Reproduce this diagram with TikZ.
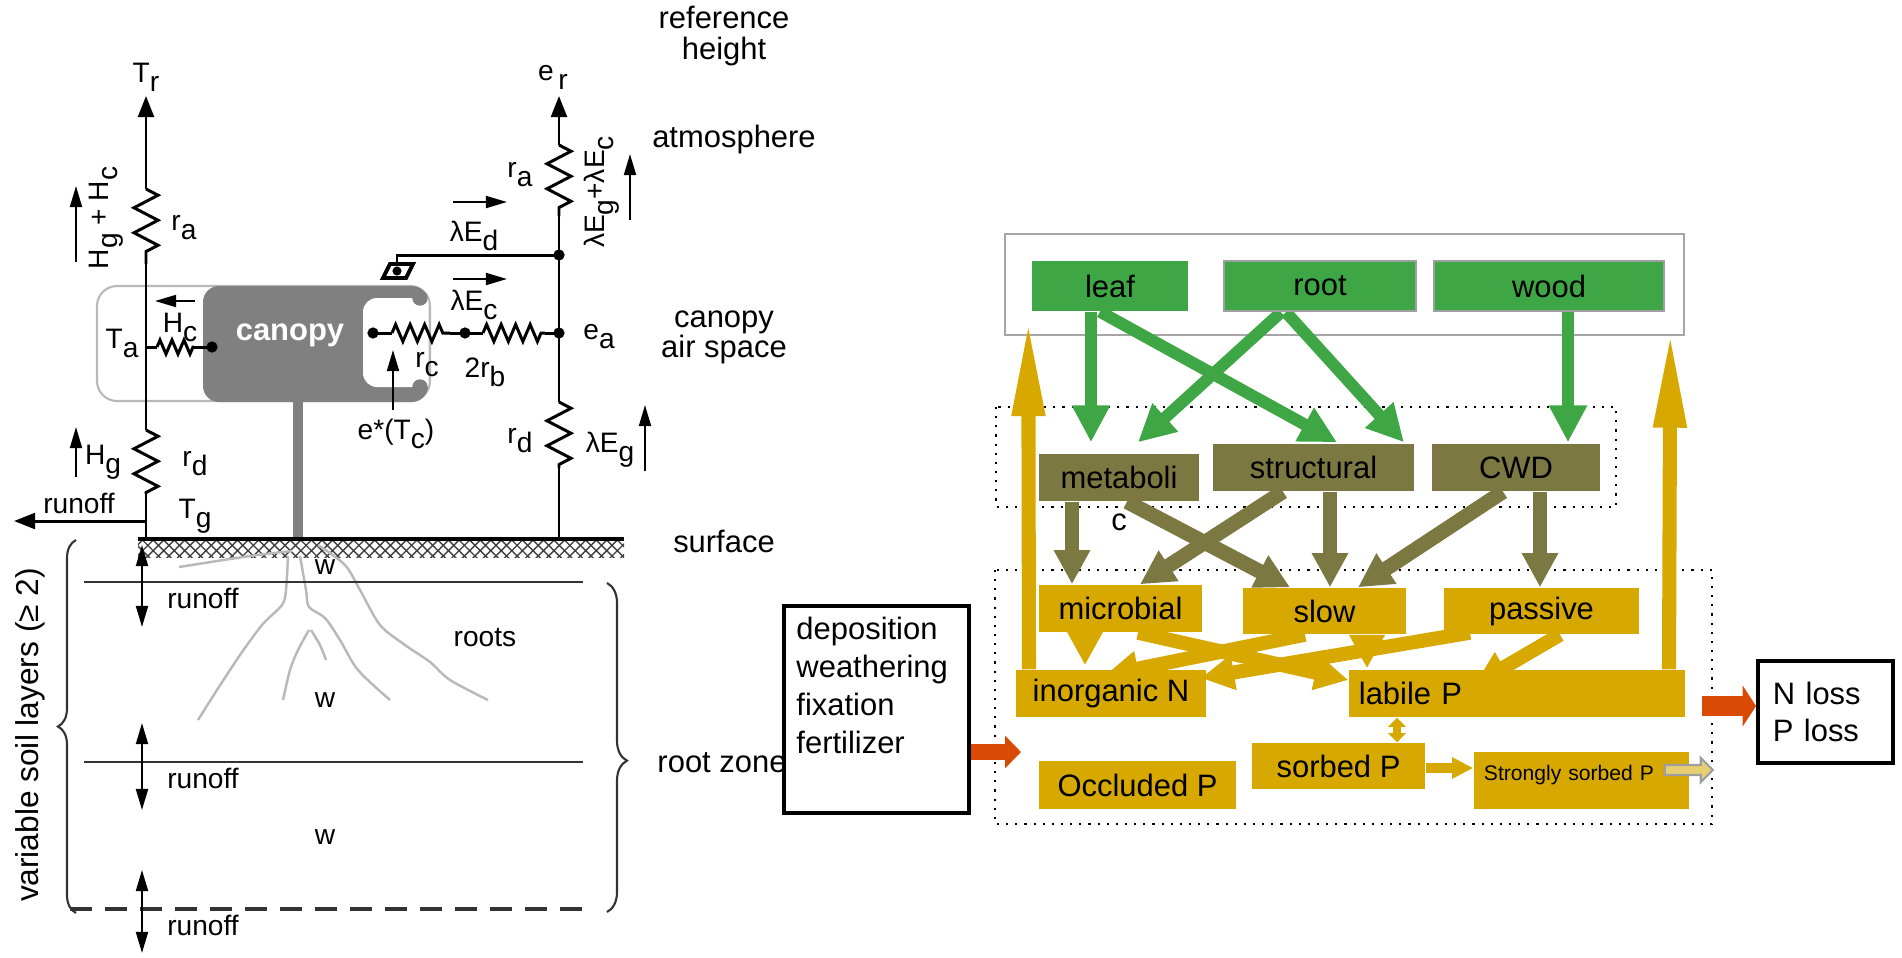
\documentclass[tikz,border=0pt]{standalone}
\usepackage{fontspec}
\setmainfont{Liberation Sans}
\usetikzlibrary{calc, positioning, arrows.meta, decorations.pathmorphing, decorations.pathreplacing, patterns}
\pgfdeclarelayer{bg}
\pgfsetlayers{bg,main}
\definecolor{leafgreen}{RGB}{62,166,68}
\definecolor{litterolive}{RGB}{123,120,66}
\definecolor{soilgold}{RGB}{214,168,0}
\definecolor{lossorange}{RGB}{217,74,5}
\definecolor{canopygray}{RGB}{128,128,128}
\newcommand{\subl}[1]{\raisebox{-0.6ex}{#1}}

\begin{document}
\begin{tikzpicture}[x=0.01cm, y=-0.01cm,
	txt/.style={inner sep=0pt, font=\fontsize{8}{9}\selectfont},
	zone/.style={inner sep=0pt, font=\fontsize{8.8}{8.6}\selectfont, align=center},
	wire/.style={line width=0.85pt},
	upwire/.style={wire, -{Triangle[width=4.5pt,length=6pt]}},
	res/.style={wire, decorate, decoration={zigzag, segment length=0.25cm, amplitude=0.12cm}},
	ressmall/.style={wire, decorate, decoration={zigzag, segment length=0.145cm, amplitude=0.085cm}},
	flux/.style={line width=0.6pt, -{Triangle[width=3.4pt,length=6pt]}},
	runarrow/.style={line width=0.6pt, {Triangle[width=3.4pt,length=6pt]}-{Triangle[width=3.4pt,length=6pt]}},
	soilline/.style={gray!40!black, line width=0.8pt},
	rootline/.style={gray!55, line width=0.7pt},
	pool/.style={fill=#1, inner sep=0pt, font=\fontsize{8.8}{10}\selectfont},
	greenflow/.style={leafgreen, line width=3.4pt, -{Triangle[width=10.2pt,length=10.5pt]}},
	oliveflow/.style={litterolive, line width=4.2pt, -{Triangle[width=9.7pt,length=9.7pt]}},
	goldflow/.style={soilgold, line width=4pt, -{Triangle[width=9.5pt,length=9.5pt]}},
	uptake/.style={soilgold, line width=4pt, -{Triangle[width=8.5pt,length=28pt]}},
	lossflow/.style={lossorange, line width=5.7pt, -{Triangle[width=11.5pt,length=3.8pt]}}]
	\useasboundingbox (0,0) rectangle (1902,957);

	% dosel %
	\draw[gray!55, line width=0.6pt, rounded corners=0.2cm] (97,286) rectangle (430,401);
	\fill[canopygray, rounded corners=0.16cm] (203,286) rectangle (428,402);
	\begin{scope}
		\clip[rounded corners=0.16cm] (203,286) rectangle (428,402);
		\fill[white, rounded corners=0.14cm] (363,298) rectangle (470,387);
	\end{scope}
	\fill[canopygray] (420,298) circle[radius=2.2pt];
	\fill[canopygray] (420,387) circle[radius=2.2pt];
	\fill[canopygray] (293,402) rectangle (303,539);
	\node[font=\fontsize{8.8}{10}\selectfont\bfseries, text=white] (canopy) at (290,335) {canopy};

	% suelo %
	\fill[pattern=crosshatch, pattern color=gray!50!black] (138,540) rectangle (624,557);
	\draw[line width=1.2pt] (138,539) -- (624,539);
	\draw[rootline] plot[smooth] coordinates {(292,551) (250,556) (179,567)};
	\draw[rootline] plot[smooth] coordinates {(288,556) (286,590) (282,605) (262,625) (240,655) (217,690) (198,720)};
	\draw[rootline] plot[smooth] coordinates {(300,556) (306,590) (309,607) (325,618) (340,640) (358,670) (390,700)};
	\draw[rootline] plot[smooth] coordinates {(309,630) (298,650) (290,670) (283,700)};
	\draw[rootline] plot[smooth] coordinates {(311,630) (320,645) (326,660)};
	\draw[rootline] plot[smooth] coordinates {(318,545) (345,565) (360,590) (380,625) (405,645) (430,662) (450,680) (488,700)};
	\draw[soilline] (84,582) -- (583,582);
	\draw[soilline] (84,762) -- (583,762);
	\draw[soilline, line width=1pt, dash pattern=on 0.22cm off 0.13cm] (70,909) -- (583,909);
	\draw[gray!40!black, line width=0.6pt, decorate, decoration={brace, amplitude=0.18cm}] (76,913) -- (76,540);
	\draw[gray!40!black, line width=0.6pt, decorate, decoration={brace, amplitude=0.2cm, aspect=0.54}] (607,583) -- (607,912);
	\draw[runarrow] (142,545) -- (142,627);
	\draw[runarrow] (142,723) -- (142,810);
	\draw[runarrow] (142,870) -- (142,953);
	\node[txt] (run1) at (203,598) {runoff};
	\node[txt] (run2) at (203,778) {runoff};
	\node[txt] (run3) at (203,925) {runoff};
	\node[txt] (w1) at (325,567) {w};
	\node[txt] (w2) at (325,700) {w};
	\node[txt] (w3) at (325,837) {w};
	\node[txt] (roots) at (485,638) {roots};
	\node[zone, rotate=90, font=\fontsize{9}{10}\selectfont] (layers) at (30,735) {variable soil layers (≥ 2)};

	% circuito %
	\coordinate (tr) at (146,96);
	\coordinate (ra1) at (146,189);
	\coordinate (ra2) at (146,264);
	\coordinate (ta) at (146,347);
	\coordinate (rd1) at (146,430);
	\coordinate (rd2) at (146,494);
	\coordinate (roff) at (146,521);
	\coordinate (tg) at (146,539);
	\coordinate (er) at (559,96);
	\coordinate (rb1) at (559,145);
	\coordinate (rb2) at (559,216);
	\coordinate (ed) at (559,255);
	\coordinate (ea) at (559,333);
	\coordinate (rf1) at (559,402);
	\coordinate (rf2) at (559,468);
	\coordinate (eg) at (559,539);
	\draw[upwire] (ra1) -- (tr);
	\draw[res] (ra1) -- (ra2);
	\draw[wire] (ra2) -- (rd1);
	\draw[res] (rd1) -- (rd2);
	\draw[wire] (rd2) -- (tg);
	\draw[wire, -{Triangle[width=4.5pt,length=6pt]}] (roff) -- (14,521);
	\draw[upwire] (rb1) -- (er);
	\draw[res] (rb1) -- (rb2);
	\draw[wire] (rb2) -- (rf1);
	\draw[res] (rf1) -- (rf2);
	\draw[wire] (rf2) -- (eg);
	% hojas %
	\coordinate (cdot) at (212,347);
	\draw[wire] (ta) -- (157,347);
	\draw[ressmall, decoration={segment length=0.12cm, amplitude=0.07cm}] (157,347) -- (194,347);
	\draw[wire] (194,347) -- (cdot);
	\coordinate (cl) at (373,333);
	\coordinate (cm) at (465,333);
	\draw[wire] (cl) -- (392,333);
	\draw[ressmall] (392,333) -- (450,333);
	\draw[wire] (450,333) -- (cm) -- (483,333);
	\draw[ressmall] (483,333) -- (545,333);
	\draw[wire] (545,333) -- (ea);
	\foreach \d in {cdot, cl, cm, ea, ed}
		\fill (\d) circle[radius=1.6pt];
	\draw[wire] (ed) -- (397,255) -- (397,264);
	\draw[line width=1.1pt, fill=white] (383,278) -- (390,264) -- (413,264) -- (406,278) -- cycle;
	\fill (397,271) circle[radius=1.3pt];

	% etiquetas %
	\node[txt] (trl) at (146,77) {T\subl{r}};
	\node[txt] (erl) at (553,77) {e\,\subl{r}};
	\node[zone] (refh) at (724,36) {reference\\height};
	\node[zone] (atm) at (734,139) {atmosphere};
	\node[zone] (cas) at (724,337) {canopy\\air space};
	\node[zone] (surf) at (724,541) {surface};
	\node[zone] (rzone) at (722,763) {root zone};
	\node[txt] (ral) at (184,228) {r\subl{a}};
	\node[txt, rotate=90] (hgc) at (106,218) {H\subl{g} + H\subl{c}};
	\draw[flux] (76,262) -- (76,186);
	\node[txt] (rar) at (520,175) {r\subl{a}};
	\node[txt, rotate=90] (legc) at (602,192) {λE\subl{g}+λE\subl{c}};
	\draw[flux] (630,220) -- (630,154);
	\node[txt] (led) at (474,236) {λE\subl{d}};
	\draw[flux] (453,202) -- (507,202);
	\node[txt] (lec) at (474,305) {λE\subl{c}};
	\draw[flux] (453,279) -- (507,279);
	\node[txt] (tal) at (122,343) {T\subl{a}};
	\node[txt] (hcl) at (180,327) {H\subl{c}};
	\draw[flux] (195,301) -- (155,301);
	\node[txt] (rcl) at (427,365) {r\subl{c}};
	\node[txt] (rbl) at (485,372) {2r\subl{b}};
	\node[txt] (estar) at (396,434) {e*(T\subl{c})};
	\draw[flux] (393,410) -- (393,350);
	\node[txt] (eal) at (599,337) {e\subl{a}};
	\node[txt] (rdr) at (520,441) {r\subl{d}};
	\node[txt] (leg) at (610,450) {λE\subl{g}};
	\draw[flux] (645,471) -- (645,405);
	\node[txt] (rdl) at (195,464) {r\subl{d}};
	\node[txt] (hgl) at (103,462) {H\subl{g}};
	\draw[flux] (76,477) -- (76,427);
	\node[txt] (roffl) at (79,503) {runoff};
	\node[txt] (tgl) at (195,516) {T\subl{g}};

	% cajas %
	\node[pool=leafgreen, minimum width=1.56cm, minimum height=0.5cm] (leaf) at (1110,286) {leaf};
	\node[pool=leafgreen, draw=gray!75, line width=0.7pt, minimum width=1.92cm, minimum height=0.5cm] (root) at (1320,286) {root};
	\node[pool=leafgreen, draw=gray!75, line width=0.7pt, minimum width=2.30cm, minimum height=0.5cm] (wood) at (1549,286) {wood};
	\node[pool=litterolive, minimum width=1.60cm, minimum height=0.47cm,
		label={[font=\fontsize{8.8}{10}\selectfont, inner sep=0pt, label distance=0.11cm]below:c}] (metab) at (1119,477.5) {metaboli};
	\node[pool=litterolive, minimum width=2.01cm, minimum height=0.47cm] (struct) at (1313.5,467.5) {structural};
	\node[pool=litterolive, minimum width=1.68cm, minimum height=0.47cm] (cwd) at (1516,467.5) {CWD};
	\node[pool=soilgold, minimum width=1.63cm, minimum height=0.47cm] (microb) at (1120.5,608.5) {microbial};
	\node[pool=soilgold, minimum width=1.63cm, minimum height=0.46cm] (slow) at (1324.5,611) {slow};
	\node[pool=soilgold, minimum width=1.95cm, minimum height=0.46cm] (passive) at (1541.5,611) {passive};
	\node[pool=soilgold, minimum width=1.90cm, minimum height=0.47cm] (inorg) at (1111,693.5) {inorganic N};
	\node[pool=soilgold, minimum height=0.47cm, text width=3.16cm, align=left, inner xsep=0.1cm] (labile) at (1517,693.5) {labile P};
	\node[pool=soilgold, minimum width=1.73cm, minimum height=0.46cm] (sorbed) at (1338.5,766) {sorbed P};
	\node[pool=soilgold, minimum width=1.97cm, minimum height=0.48cm] (occl) at (1137.5,785) {Occluded P};
	\node[pool=soilgold, font=\fontsize{6}{7}\selectfont, text width=1.95cm, align=left, inner xsep=0.1cm,
		text height=8pt, text depth=8.2pt] (strong) at (1581.5,780.5) {Strongly sorbed P};
	\node[draw, line width=1.1pt, inner sep=0pt, minimum width=1.85cm, minimum height=2.07cm, font=\fontsize{8.8}{10.8}\selectfont] (depo) at (876.5,709.5)
		{\parbox[c][1.85cm][t]{1.6cm}{deposition\\weathering\\fixation\\fertilizer}};
	\node[draw, line width=1.1pt, inner ysep=0pt, inner xsep=0.15cm, text width=1.05cm, align=left, minimum height=1.02cm,
		font=\fontsize{8.8}{10.5}\selectfont] (nloss) at (1825.5,712) {N loss\\P loss};

	% flechas %
	\begin{pgfonlayer}{bg}
		\draw[gray!70, line width=0.8pt] (1005,234) rectangle (1684,335);
		\draw[dotted, line width=0.6pt] (996,407) rectangle (1616,507);
		\draw[dotted, line width=0.6pt] (995,570) rectangle (1712,824);
		\draw[greenflow] ($(leaf.south)+(-19,0)$) -- ($(metab.north)+(-28,-11)$);
		\draw[greenflow] ($(leaf.south)+(-10,0)$) -- ($(struct.north)+(23.5,-1)$);
		\draw[greenflow] ($(root.south)+(-39,0)$) -- ($(metab.north)+(19,-11)$);
		\draw[greenflow] ($(root.south)+(-34,0)$) -- ($(struct.north)+(90.5,-1)$);
		\draw[greenflow] ($(wood.south)+(19,0)$) -- ($(cwd.north)+(52,-1)$);
		\draw[oliveflow] ($(metab.south)+(-47,0)$) -- ($(microb.north)+(-48.5,0)$);
		\draw[oliveflow] ($(metab.south)+(8,0)$) -- ($(slow.north)+(-34.5,0)$);
		\draw[oliveflow] ($(struct.south)+(-30.5,0)$) -- ($(microb.north)+(19.5,0)$);
		\draw[oliveflow] ($(struct.south)+(16.5,0)$) -- ($(slow.north)+(5.5,0)$);
		\draw[oliveflow] ($(cwd.south)+(-13,0)$) -- ($(slow.north)+(33.5,0)$);
		\draw[oliveflow] ($(cwd.south)+(24,0)$) -- ($(passive.north)+(-1.5,0)$);
		\draw[goldflow] ($(microb.south)+(-35.5,0)$) -- ($(inorg.north)+(-26,-4)$);
		\draw[goldflow] ($(microb.south)+(17.5,0)$) -- ($(labile.west)+(0,-13.5)$);
		\draw[goldflow] ($(slow.south)+(-19.5,0)$) -- ($(inorg.north)+(-6,6)$);
		\draw[goldflow] ($(slow.south)+(42.5,0)$) -- ($(labile.north)+(-150,-1)$);
		\draw[goldflow] ($(passive.south)+(-71.5,-2)$) -- ($(inorg.east)+(-6,-15.5)$);
		\draw[goldflow] ($(passive.south)+(18.5,0)$) -- ($(labile.north)+(-42,15)$);
		\draw[uptake] ($(inorg.north)+(-82,0)$) -- ($(leaf.south west)+(-3,6)$);
		\draw[uptake] ($(labile.north)+(152,0)$) -- ($(wood.south east)+(5,17)$);
	\end{pgfonlayer}
	\draw[soilgold, line width=2.3pt, {Triangle[width=5pt,length=2.6pt]}-{Triangle[width=5pt,length=2.6pt]}] ($(labile.south)+(-120,0)$) -- ($(sorbed.north)+(58.5,0)$);
	\draw[soilgold, line width=2.8pt, -{Triangle[width=5.7pt,length=6pt]}] ($(sorbed.east)+(0,2)$) -- ($(strong.west)+(0,-12.5)$);
	\draw[gray!75, line width=0.6pt, fill=soilgold!55!white] ($(strong.east)+(-25,-15.5)$) -- ++(36,0) -- ++(0,-7) -- ++(12,12) -- ++(-12,12) -- ++(0,-7) -- ++(-36,0) -- cycle;
	\draw[lossflow, line width=4.3pt, -{Triangle[width=9pt,length=4.5pt]}] ($(depo.east)+(0,42.5)$) -- ++(50,0);
	\draw[lossflow] ($(labile.east)+(16,12.5)$) -- ($(nloss.west)+(0,-6)$);
\end{tikzpicture}
\end{document}
